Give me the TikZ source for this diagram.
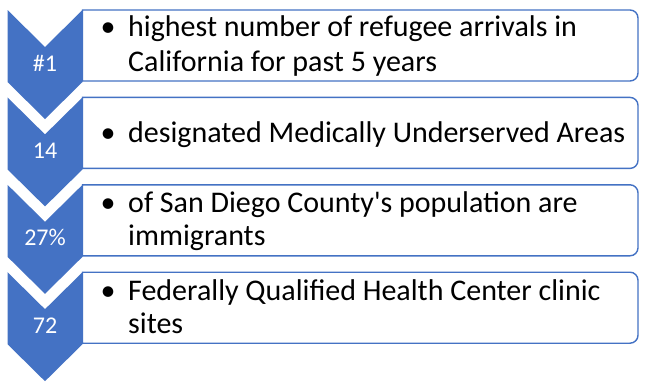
\documentclass[tikz,border=0pt]{standalone}
\usepackage{fontspec}
\setmainfont{Carlito}
\definecolor{cblue}{HTML}{4472C4}
\tikzset{
  chev/.style={fill=cblue, draw=none},
  infobox/.style={draw=cblue, line width=1.4pt, fill=white},
  num/.style={text=white, font=\fontsize{24}{28}\selectfont, anchor=base, inner sep=0pt},
  bul/.style={font=\fontsize{30}{35}\selectfont, anchor=base, inner sep=0pt},
  line/.style={font=\fontsize{30}{35}\selectfont, anchor=base west, inner sep=0pt},
}
\begin{document}
\begin{tikzpicture}[x=1pt,y=-1pt]
\useasboundingbox[fill=white] (0,0) rectangle (646,389);
\foreach \k/\yy/\by in {1/10/36,2/97.4/142,3/184.8/212.8,4/272.2/300.2}{
  \fill[chev] (7.5,\yy) -- (45,\yy+37) -- (82.5,\yy) -- (82.5,\yy+72) -- (45,\yy+109) -- (7.5,\yy+72) -- cycle;
  \draw[infobox] (82.5,\yy+71) -- (82.5,\yy) -- (300,\yy) [rounded corners=8pt] -- (638,\yy) -- (638,\yy+71) -- (300,\yy+71) [sharp corners] -- cycle;
  \node[bul] (b\k) at (108,\by) {•};
}
\node[num] (n1) at (45,71) {\#1};
\node[num] (n2) at (45,158.4) {14};
\node[num] (n3) at (45,245.8) {27\%};
\node[num] (n4) at (45,333.2) {72};
\node[line] (t1a) at (128,36) {highest number of refugee arrivals in};
\node[line] (t1b) at (128,71) {California for past 5 years};
\node[line] (t2) at (128,142) {designated Medically Underserved Areas};
\node[line] (t3a) at (128,212.8) {of San Diego County\textquotesingle s population are};
\node[line] (t3b) at (128,245.8) {immigrants};
\node[line] (t4a) at (128,300.2) {Federally Qualified Health Center clinic};
\node[line] (t4b) at (128,333.2) {sites};
\end{tikzpicture}
\end{document}
